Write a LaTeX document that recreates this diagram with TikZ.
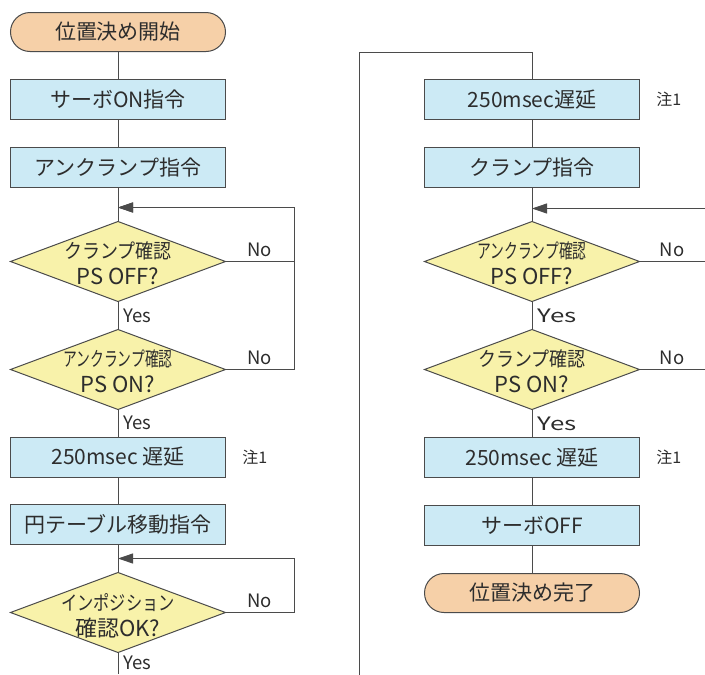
\documentclass[tikz,border=0pt]{standalone}
\usepackage{fontspec}
\setmainfont{Noto Sans CJK JP}
\usepackage{graphicx}
\usetikzlibrary{positioning, arrows.meta, calc, shapes.geometric}
\definecolor{boxblue}{RGB}{204,234,245}
\definecolor{termorange}{RGB}{246,208,168}
\definecolor{decyellow}{RGB}{248,242,170}
\definecolor{linegray}{RGB}{75,75,75}
\definecolor{textgray}{RGB}{45,45,45}
\newcommand{\squeeze}[2]{\scalebox{#1}[1]{#2}}
\tikzset{
>={Triangle[length=15pt,width=10pt]}, % filled arrow heads
node distance=28pt, % gap between two steps
every node/.style={text=textgray},
proc/.style={draw=linegray, fill=boxblue, line width=1pt, outer sep=0pt, minimum width=215pt, minimum height=40pt, font=\fontsize{21}{25}\selectfont},
term/.style={proc, fill=termorange, rounded corners=19.5pt, minimum height=39pt},
check/.style={diamond, draw=linegray, fill=decyellow, line width=1pt, outer sep=0pt, minimum width=215pt, minimum height=80pt, inner sep=0pt},
ask/.style={align=center, font=\fontsize{20}{26}\selectfont, yshift=-2pt},
nolbl/.style={above, font=\fontsize{18.5}{20}\selectfont, inner sep=4pt},
yeslbl/.style={right, font=\fontsize{18.5}{20}\selectfont, inner sep=5pt},
note/.style={font=\fontsize{16}{18}\selectfont},
}
\newcommand{\bigline}[1]{{\fontsize{22}{26}\selectfont #1}}
\begin{document}
\begin{tikzpicture}[x=1pt, y=1pt, line width=0.9pt, color=linegray]
  \useasboundingbox (0,0) rectangle (705,-675);
  % left column
  \node[term] (start) at (118,-32) {位置決め開始};
  \node[proc, below=of start] (servo) {サーボON指令};
  \node[proc, below=of servo] (unclamp) {アンクランプ指令};
  \node[check, below=34pt of unclamp, label={[ask]center:{\squeeze{0.9}{クランプ確認}\\\bigline{PS OFF?}}}] (chkoff) {};
  \node[check, below=of chkoff, label={[ask]center:{\squeeze{0.69}{アンクランプ確認}\\\bigline{PS ON?}}}] (chkon) {};
  \node[proc, below=27.5pt of chkon] (wait1) {250msec 遅延};
  \node[note, right=13pt of wait1] (note1) {注1};
  \node[proc, below=27.5pt of wait1] (move) {円テーブル移動指令};
  \node[check, below=of move, label={[ask, yshift=-1pt]center:{\squeeze{0.81}{インポジション}\\\bigline{確認OK?}}}] (chkpos) {};
  \coordinate[below=21pt of chkpos.south] (leftout);
  \coordinate[above=14pt of chkoff.north] (loop1);
  \coordinate[above=14pt of chkpos.north] (loop2);
  \coordinate (loopx) at (294,0);
  % right column
  \node[proc, right=199pt of servo] (wait2) {250msec遅延};
  \node[note, right=13pt of wait2] (note2) {注1};
  \node[proc, below=of wait2] (clamp) {クランプ指令};
  \node[check, below=34pt of clamp, label={[ask]center:{\squeeze{0.69}{アンクランプ確認}\\\bigline{PS OFF?}}}] (rchkoff) {};
  \node[check, below=of rchkoff, label={[ask]center:{\squeeze{0.9}{クランプ確認}\\\bigline{PS ON?}}}] (rchkon) {};
  \node[proc, below=of rchkon] (wait3) {250msec 遅延};
  \node[note, right=13pt of wait3] (note3) {注1};
  \node[proc, below=of wait3] (servooff) {サーボOFF};
  \node[term, below=of servooff] (finish) {位置決め完了};
  \coordinate (edge) at (705,0);
  \coordinate[above=13pt of rchkoff.north] (loop3);
  \coordinate[above=27pt of wait2.north] (rtop);
  \coordinate (rin) at (359,-675);

  \draw (start) -- (servo);
  \draw (servo) -- (unclamp);
  \draw (unclamp) -- (chkoff);
  \draw (chkoff) -- node[yeslbl]{Yes} (chkon);
  \draw (chkon) -- node[yeslbl]{Yes} (wait1);
  \draw (wait1) -- (move);
  \draw (move) -- (chkpos);
  \draw (chkpos) -- node[yeslbl]{Yes} (leftout);
  \draw[->] (chkoff.east) -- node[nolbl]{No} (chkoff.east -| loopx) |- (loop1);
  \draw[->] (chkon.east) -- node[nolbl]{No} (chkon.east -| loopx) |- (loop1);
  \draw[->] (chkpos.east) -- node[nolbl]{No} (chkpos.east -| loopx) |- (loop2);

  \draw (rin) |- (rtop) -- (wait2);
  \draw (wait2) -- (clamp);
  \draw (clamp) -- (rchkoff);
  \draw[->] (loop3 -| edge) -- (loop3);
  \draw (rchkoff.east) -- node[nolbl]{No} (rchkoff.east -| edge);
  \draw (rchkoff) -- node[yeslbl]{\squeeze{1.4}{Yes}} (rchkon);
  \draw (rchkon.east) -- node[nolbl]{No} (rchkon.east -| edge);
  \draw (rchkon) -- node[yeslbl]{\squeeze{1.4}{Yes}} (wait3);
  \draw (wait3) -- (servooff);
  \draw (servooff) -- (finish);
\end{tikzpicture}
\end{document}
